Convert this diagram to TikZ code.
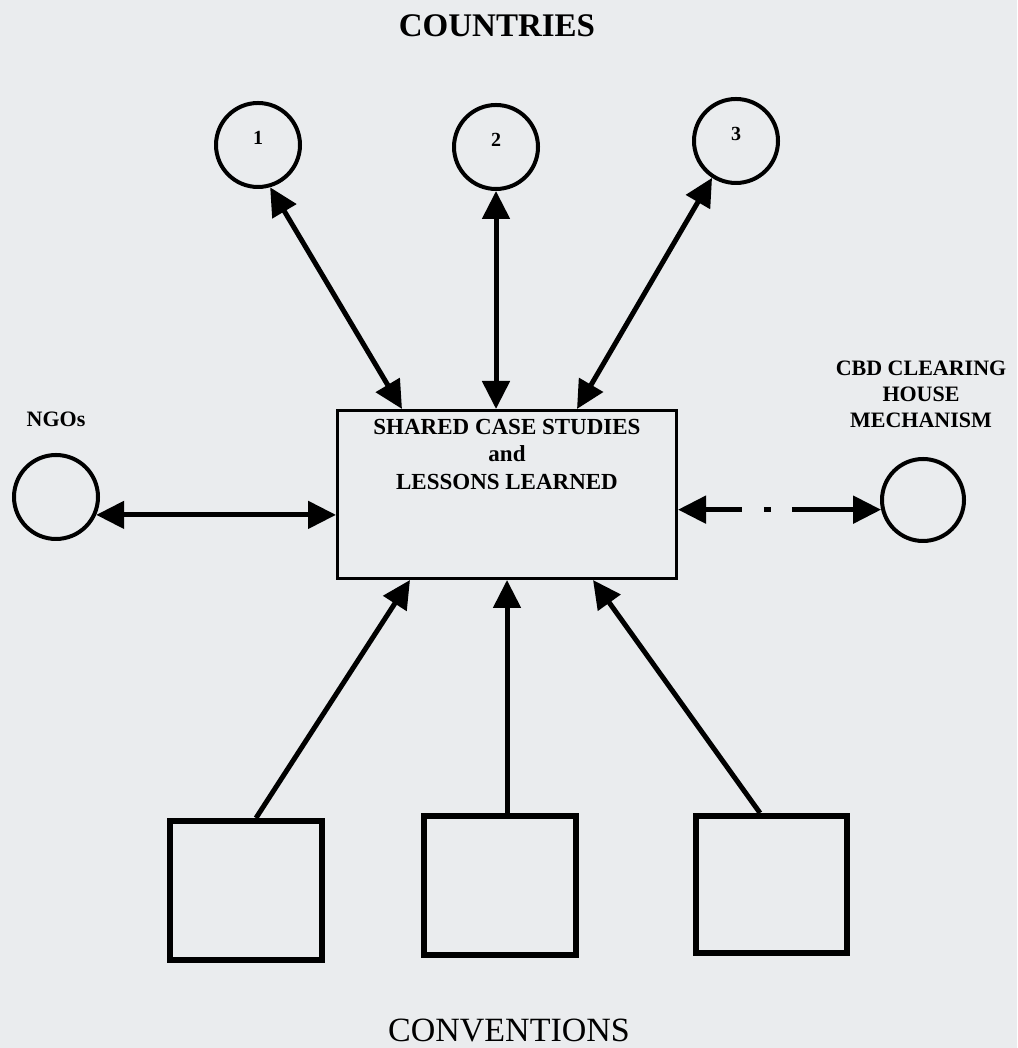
\documentclass[tikz,border=0pt]{standalone}
\usepackage{fontspec}
\setmainfont{Liberation Serif}
\usepackage{tikz}
\usetikzlibrary{arrows.meta,positioning}
\definecolor{paper}{RGB}{234,236,238}
\tikzset{
  every node/.style={
    font=\bfseries\fontsize{22}{26}\selectfont
  },
  country/.style={
    shape=circle,
    draw=black,
    line width=4pt,
    minimum size=84pt,
    text depth=14pt,
    font=\bfseries\fontsize{20}{24}\selectfont
  },
  partner/.style={
    shape=circle,
    draw=black,
    line width=4pt,
    minimum size=84pt
  },
  hub/.style={
    shape=rectangle,
    draw=black,
    line width=3pt,
    minimum width=339pt,
    minimum height=168pt,
    label={[anchor=north,inner sep=0pt,yshift=-10pt,align=center,
      font=\bfseries\fontsize{23}{27.5}\selectfont]north:#1}
  },
  convention/.style={
    shape=rectangle,
    draw=black,
    line width=6pt,
    minimum width=152pt,
    minimum height=139pt
  },
  heading/.style={
    font=\fontsize{34}{40}\selectfont
  },
  tip/.style={
    Triangle[length=28pt,width=27pt]
  },
  link/.style={
    line width=5pt,
    -{Triangle[length=28pt,width=27pt]}
  },
  twoway/.style={
    line width=5pt,
    {Triangle[length=28pt,width=27pt]}-{Triangle[length=28pt,width=27pt]}
  }
}

\begin{document}
\begin{tikzpicture}[x=1pt,y=1pt]
  \fill[paper] (0,0) rectangle (1017,1048);
  \useasboundingbox (0,0) rectangle (1017,1048);

  \node [font=\bfseries\fontsize{33}{40}\selectfont] (countries) at (497,1022) {COUNTRIES};
  \node [country] (c1) at (258,903) {1};
  \node [country] (c2) at (496,901) {2};
  \node [country] (c3) at (736,907) {3};

  \node [hub={SHARED CASE STUDIES\\and\\LESSONS LEARNED}] (cases) at (507,553.5) {};

  \node [partner] (ngo) at (56,551) {};
  \node [above=23pt of ngo] (ngolabel) {NGOs};
  \node [partner,minimum size=82pt] (chm) at (923,548) {};
  \node [above=26pt of chm,align=center,xshift=-2pt] (chmlabel) {CBD CLEARING\\HOUSE\\MECHANISM};

  \node [convention] (v1) at (246,157.5) {};
  \node [convention] (v2) at (500,162) {};
  \node [convention,minimum width=151pt,minimum height=137pt] (v3) at (771.5,163.5) {};
  \node [heading] (conventions) at (509,17) {CONVENTIONS};

  \draw [twoway] (c1.-74) -- ([xshift=66pt]cases.north west);
  \draw [twoway] (c2.south) -- (c2.south |- cases.north);
  \draw [twoway] (c3.-123) -- ([xshift=241pt]cases.north west);
  \draw [twoway] (ngo.-24) -- (ngo.-24 -| cases.west);
  \draw [twoway,dash pattern=on 37pt off 22pt on 7pt off 21pt on 200pt off 0pt]
    (cases.east |- chm.193) -- (chm.193);
  \draw [link] ([xshift=10pt]v1.north) -- ([xshift=74pt]cases.south west);
  \draw [link] ([xshift=7pt]v2.north) -- ([xshift=7pt]v2.north |- cases.south);
  \draw [link] ([xshift=-11.5pt]v3.north) -- ([xshift=257pt]cases.south west);
\end{tikzpicture}
\end{document}
